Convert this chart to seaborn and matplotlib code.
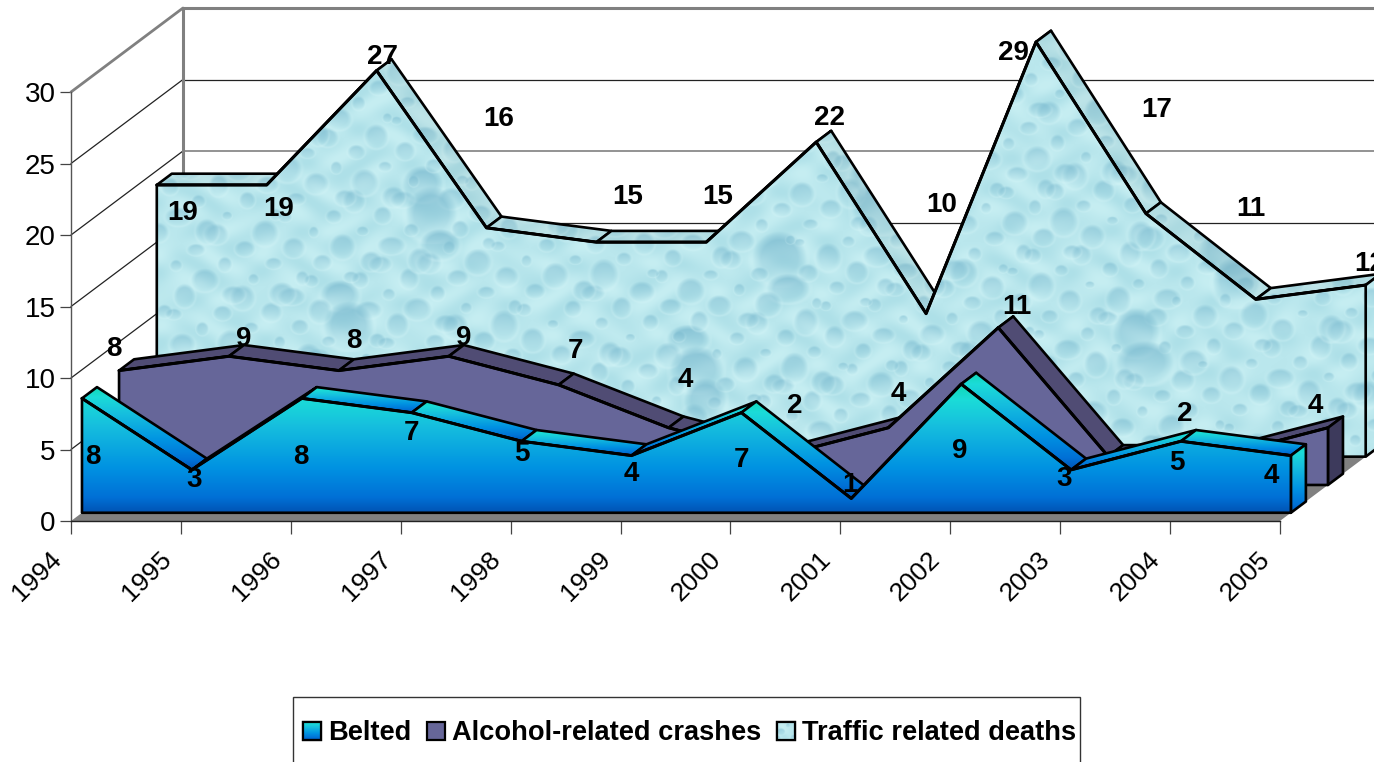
import numpy as np
import pandas as pd
import matplotlib
matplotlib.use("Agg")
import matplotlib.pyplot as plt
from matplotlib.patches import Polygon, Patch, Rectangle
from matplotlib.colors import to_rgb
from matplotlib.transforms import ScaledTranslation
import seaborn as sns

# ---------- data ----------
years = [1994, 1995, 1996, 1997, 1998, 1999, 2000, 2001, 2002, 2003, 2004, 2005]
belted = [8, 3, 8, 7, 5, 4, 7, 1, 9, 3, 5, 4]
alcohol = [8, 9, 8, 9, 7, 4, 2, 4, 11, 2, 2, 4]
traffic = [19, 19, 27, 16, 15, 15, 22, 10, 29, 17, 11, 12]
series_names = ["Belted", "Alcohol-related crashes", "Traffic related deaths"]
y_ticks = [0, 5, 10, 15, 20, 25, 30]

# ---------- label placement relative to each point (pixels); None = no label ----------
belted_off = [(11, 57), (2, 9), (-1, 57), (0, 19), (0, 11.5), (0, 17), (0, 46), (-1, -15), (-1, 65), (-7, 8), (-4, 20.5), (-20, 19)]
alcohol_off = [(-5, -22.6), (15, -19), (15, -30.6), (15, -20), (17, -35), (17, -49), (16, -52), (10, -35), (19, -22), None, (-33, -44), (-13, -23)]
traffic_off = [(26, 27), (12, 23), (6, -15), (12, -110), (31, -46.5), (11, -46.5), (13, -26), (16, -110), (-23, 10), (11, -105), (-5, -92), (4, -23)]

# ---------- geometry of the 3-D look ----------
W, H = 1374, 762
PX_YEAR, PX_UNIT = 109.9, 14.3
X0_PX, Y0_PX = 71, 521
DEPTH_X = 112 / PX_YEAR       # year units per full depth
DEPTH_Y = 84 / PX_UNIT        # value units per full depth
BAND = 0.134                  # depth of one series' slab
FRONT = [0.098, 0.429, 0.766]  # depth of front face per series
FS = 20


def proj(i, v, d):
    """Project (year index, value, depth) onto the axes' data plane."""
    return (np.asarray(i, float) + d * DEPTH_X, np.asarray(v, float) + d * DEPTH_Y)


sns.set_theme(style="white", rc={"axes.grid": False})
plt.rcParams["font.family"] = ["Liberation Sans", "DejaVu Sans"]

fig = plt.figure(figsize=(W / 100, H / 100), dpi=100, facecolor="white")
ax = fig.add_axes([0, 0, 1, 1])
XLIM = (-X0_PX / PX_YEAR, (W - X0_PX) / PX_YEAR)
YLIM = ((Y0_PX - H) / PX_UNIT, Y0_PX / PX_UNIT)
ax.set_xlim(*XLIM)
ax.set_ylim(*YLIM)
ax.autoscale(False)
ax.patch.set_facecolor("white")

LINE = "black"
GREY = "#808080"

# ---------- axes ----------
for s in ("top", "right"):
    ax.spines[s].set_visible(False)
for s in ("left", "bottom"):
    ax.spines[s].set_position(("data", 0))
ax.spines["left"].set_color("#555555")
ax.spines["left"].set_linewidth(1.0)
ax.spines["bottom"].set_color("#222222")
ax.spines["bottom"].set_linewidth(1.0)
ax.spines["left"].set_bounds(0, 30)
ax.spines["bottom"].set_bounds(0, 11)
ax.set_xticks(range(len(years)))
ax.set_xticklabels([str(y) for y in years], rotation=45, ha="right", rotation_mode="anchor", fontsize=19, color="black")
ax.set_yticks(y_ticks)
ax.set_yticklabels([str(y) for y in y_ticks], fontsize=FS, color="black")
ax.tick_params(axis="x", direction="out", length=9, width=0.9, color="#444444", pad=8, bottom=True)
ax.tick_params(axis="y", direction="out", length=8, width=0.9, color="#444444", pad=3, left=True)
shift = ScaledTranslation(-22 / 100, -2 / 100, fig.dpi_scale_trans)
for lab in ax.get_xticklabels():
    lab.set_transform(lab.get_transform() + shift)

# ---------- walls and floor ----------
for v in y_ticks:
    xs, ys = proj([0, 0], [v, v], np.array([0, 1]))
    top = v == y_ticks[-1]
    if v > 0:
        ax.plot(xs, ys, color=GREY if top else "#222222", lw=2.0 if top else 0.9, zorder=1)
    bx, by = proj([0, 11], [v, v], 1)
    if v > 0:
        ax.plot(bx, by, color=GREY if (top or v == 20) else "#222222", lw=2.2 if top else (1.2 if v == 20 else 0.9), zorder=1)
xv, yv = proj([0, 0], [0, 30], 1)
ax.plot(xv, yv, color=GREY, lw=2.2, zorder=1)
fx0, fy0 = proj([0, 11], [0, 0], 0)
fx1, fy1 = proj([11, 0], [0, 0], 1)
ax.add_patch(Polygon(np.c_[np.r_[fx0, fx1], np.r_[fy0, fy1]], closed=True, facecolor=GREY, edgecolor="none", zorder=1.5))


# ---------- fills ----------
def ramp(stops, n=256):
    pos = [p for p, _ in stops]
    cols = np.array([to_rgb(c) for _, c in stops])
    t = np.linspace(0, 1, n)
    return np.stack([np.interp(t, pos, cols[:, k]) for k in range(3)], axis=1)[:, None, :]


BLUE_RAMP = ramp([(0, "#0053b3"), (0.12, "#0070d6"), (0.35, "#0092e2"), (0.68, "#16bfde"), (0.88, "#1bdcd8"), (1, "#0fd8b4")])


def water_texture(h=520, w=1300):
    """Deterministic droplet pattern (decoration only)."""
    yy, xx = np.mgrid[0:h, 0:w]
    mott = (np.sin(xx / 9.0 + np.sin(yy / 13.0) * 2) + np.sin(yy / 7.0 + np.sin(xx / 17.0) * 2)) / 2
    light = 0.5 + 0.5 * mott
    img = np.zeros((h, w, 3))
    base_a, base_b = np.array(to_rgb("#aee0e8")), np.array(to_rgb("#c6eef2"))
    for k in range(3):
        img[:, :, k] = base_a[k] + (base_b[k] - base_a[k]) * light
    dark = np.array(to_rgb("#78b8ce"))
    rim = np.array([0.84, 0.96, 0.97])
    for n in range(1, 800):
        u, v_, s = (n * 0.6180339) % 1, (n * 0.7548777) % 1, (n * 0.5698403) % 1
        big = n % 23 == 0
        rx = 20 + 12 * s if big else 5 + 10 * s
        ry = rx * (0.75 + 0.55 * ((n * 0.4142136) % 1))
        cx, cy = u * w, v_ * h
        x0, x1 = int(max(cx - rx - 3, 0)), int(min(cx + rx + 4, w))
        y0, y1 = int(max(cy - ry - 3, 0)), int(min(cy + ry + 4, h))
        if x1 <= x0 or y1 <= y0:
            continue
        py, px = np.mgrid[y0:y1, x0:x1]
        r = np.hypot((px - cx) / rx, (py - cy) / ry)
        t = np.clip(((py - cy) / ry + 1) / 2, 0, 1)
        inside = np.clip((1 - r) * 3, 0, 1)
        a = inside * ((0.8 if big else 0.55) * (1 - t) ** 1.1 + 0.03)
        halo = np.clip(1 - np.abs(r - 1.05) * 6, 0, 1) * 0.35 * t
        for k in range(3):
            ch = img[y0:y1, x0:x1, k]
            ch = ch * (1 - a) + dark[k] * a
            ch = ch * (1 - halo) + rim[k] * halo
            img[y0:y1, x0:x1, k] = ch
    return img


TEX = water_texture()
tx_l, _ = proj(0, 0, FRONT[2])
tx_r, _ = proj(11, 0, FRONT[2] + BAND)
tx_b = proj(0, 0, FRONT[2])[1]
tx_t = 30 + FRONT[2] * DEPTH_Y
TEX_EXT = (tx_l, tx_r + 0.1, tx_b, tx_t)

z = [2.0]


def next_z():
    z[0] += 0.01
    return z[0]


def poly_fill(pts, fill):
    zo = next_z()
    poly = Polygon(pts, closed=True, facecolor="none", edgecolor=LINE, lw=1.9, joinstyle="round", zorder=zo + 0.005)
    ax.add_patch(poly)
    if fill["kind"] == "solid":
        poly.set_facecolor(fill["color"])
    elif fill["kind"] == "ramp":
        ys = pts[:, 1]
        lo = fill.get("lo", ys.min())
        hi = fill.get("hi", ys.max())
        im = ax.imshow(BLUE_RAMP, origin="lower", extent=(pts[:, 0].min(), pts[:, 0].max(), lo, hi), aspect="auto", interpolation="bilinear", zorder=zo)
        clip = Polygon(pts, closed=True, transform=ax.transData)
        im.set_clip_path(clip)
    else:
        im = ax.imshow(np.clip(TEX * fill.get("tone", 1.0), 0, 1), origin="upper", extent=TEX_EXT, aspect="auto", interpolation="bilinear", zorder=zo)
        clip = Polygon(pts, closed=True, transform=ax.transData)
        im.set_clip_path(clip)


def slab(values, d, face, strip, side):
    n = len(values)
    idx = np.arange(n)
    d2 = d + BAND
    # top facets, left to right
    for i in range(n - 1):
        a = np.c_[proj([i, i + 1], values[i:i + 2], d)]
        b = np.c_[proj([i + 1, i], values[i:i + 2][::-1], d2)]
        poly_fill(np.r_[a, b], strip)
    # right end cap
    cx_f, cy_f = proj([n - 1, n - 1], [0, values[-1]], d)
    cx_b, cy_b = proj([n - 1, n - 1], [values[-1], 0], d2)
    poly_fill(np.r_[np.c_[cx_f, cy_f], np.c_[cx_b, cy_b]], side)
    # front face
    tx, ty = proj(idx, values, d)
    bx, by = proj([n - 1, 0], [0, 0], d)
    face_pts = np.r_[np.c_[tx, ty], np.c_[bx, by]]
    poly_fill(face_pts, face)
    # top edge of the face drawn through seaborn
    df = pd.DataFrame({"x": tx, "y": ty})
    sns.lineplot(data=df, x="x", y="y", color=LINE, lw=2.2, ax=ax, estimator=None, sort=False, legend=False, zorder=next_z())
    return tx, ty


trf_x, trf_y = slab(traffic, FRONT[2], {"kind": "tex"}, {"kind": "tex", "tone": 0.96}, {"kind": "tex"})
alc_x, alc_y = slab(alcohol, FRONT[1], {"kind": "solid", "color": "#666699"}, {"kind": "solid", "color": "#504c74"}, {"kind": "solid", "color": "#3d3a5c"})
bel_base = FRONT[0] * DEPTH_Y
bel_x, bel_y = slab(belted, FRONT[0], {"kind": "ramp", "lo": bel_base, "hi": bel_base + max(belted)}, {"kind": "ramp"}, {"kind": "ramp"})

ax.set_xlabel("")
ax.set_ylabel("")
ax.set_xlim(*XLIM)
ax.set_ylim(*YLIM)

# ---------- data labels ----------
for vals, xs, ys, offs in ((belted, bel_x, bel_y, belted_off), (alcohol, alc_x, alc_y, alcohol_off), (traffic, trf_x, trf_y, traffic_off)):
    for v, x, y, off in zip(vals, xs, ys, offs):
        if off is None:
            continue
        ax.annotate(str(v), (x, y), xytext=(off[0], -off[1] - 1.5), textcoords="offset pixels", ha="center", va="center",
                    fontsize=FS, fontweight="bold", color="black", zorder=8, annotation_clip=False)

# ---------- legend ----------
ax.add_patch(Rectangle((293 / W, 1 - 767 / H), (1080 - 293) / W, 70 / H, transform=fig.transFigure, facecolor="white", edgecolor="#333333", lw=1.0, zorder=4, clip_on=False))
handles = [Patch(facecolor=c, edgecolor="black", lw=1.6, label=name) for c, name in zip(["#0f9fe0", "#666699", "#b4e4ec"], series_names)]
leg = ax.legend(handles=handles, ncol=3, loc="center left", bbox_to_anchor=(303 / W, 1 - 733.5 / H), bbox_transform=fig.transFigure,
                frameon=False, borderaxespad=0, borderpad=0, handlelength=0.66, handleheight=0.66, handletextpad=0.27, columnspacing=0.56,
                prop={"family": "Liberation Sans", "weight": "bold", "size": 19.65})
leg.set_zorder(5)
for t in leg.get_texts():
    t.set_color("black")
fig.canvas.draw()
inv = ax.transData.inverted()
for p, kind in zip(leg.get_patches(), ("ramp", None, "tex")):
    if kind is None:
        continue
    bb = p.get_window_extent()
    (xa, ya), (xb, yb) = inv.transform([(bb.x0, bb.y0), (bb.x1, bb.y1)])
    if kind == "ramp":
        ax.imshow(BLUE_RAMP, origin="lower", extent=(xa, xb, ya, yb), aspect="auto", zorder=6)
    else:
        ax.imshow(TEX[:60, 150:210], origin="upper", extent=(xa, xb, ya, yb), aspect="auto", zorder=6)
    ax.add_patch(Rectangle((xa, ya), xb - xa, yb - ya, facecolor="none", edgecolor="black", lw=1.6, zorder=7))
ax.set_xlim(*XLIM)
ax.set_ylim(*YLIM)

fig.savefig("out.png", dpi=100, facecolor="white")
